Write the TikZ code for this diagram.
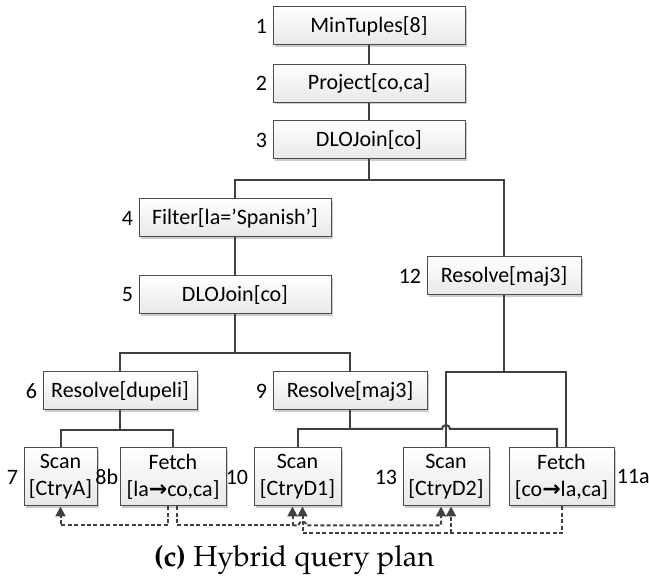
\documentclass[tikz,border=0pt]{standalone}
\usepackage[T1]{fontenc}
\usepackage{fontspec}
\usepackage{tikz}
\usetikzlibrary{arrows.meta, calc, shadows}

\newfontfamily\calibri{Carlito}
\newfontfamily\arrowfont{DejaVu Sans}
\newcommand{\fldarrow}{{\arrowfont\bfseries →}}
\newcommand{\capfont}{\fontencoding{T1}\fontfamily{ppl}\fontsize{14.5}{17}\selectfont}

\begin{document}
\begin{tikzpicture}[x=0.5pt, y=-0.5pt,
    op/.style={draw=gray!60!black, line width=0.5pt, top color=white, bottom color=gray!18,
        minimum height=19pt, inner sep=0pt, align=center,
        font=\calibri\fontsize{11}{13.5}\selectfont,
        drop shadow={shadow xshift=1pt, shadow yshift=-1pt, opacity=0.2, fill=black}},
    leaf/.style={minimum height=29pt},
    num/.style={font=\calibri\fontsize{11}{13.5}\selectfont, inner sep=0pt},
    tree/.style={draw=black!75, line width=1pt},
    flow/.style={draw=black!75, line width=1pt, dash pattern=on 2pt off 1.2pt,
        -{Triangle[length=5pt, width=5pt]}},
    label distance=2.5pt]
    \useasboundingbox (0,0) rectangle (649,587);

    % 上半部分的算子
    \node[op, minimum width=96pt, label={[num]left:1}] (mintup) at (369,26) {MinTuples[8]};
    \node[op, minimum width=96pt, label={[num]left:2}] (proj) at (369,83.5) {Project[co,ca]};
    \node[op, minimum width=96pt, label={[num]left:3}] (join1) at (369,140) {DLOJoin[co]};
    \node[op, minimum width=96pt, label={[num]left:4}] (filt) at (235,218) {Filter[la=’Spanish’]};
    \node[op, minimum width=96pt, label={[num]left:5}] (join2) at (235,295) {DLOJoin[co]};
    \node[op, minimum width=77pt, label={[num]left:12}] (res12) at (504,276) {Resolve[maj3]};
    \node[op, minimum width=77pt, label={[num]left:6}] (res6) at (120,391) {Resolve[dupeli]};
    \node[op, minimum width=77pt, label={[num]left:9}] (res9) at (350,391) {Resolve[maj3]};

    % 最底层的 Scan / Fetch
    \node[op, leaf, minimum width=36.5pt, label={[num]left:7}] (scan7) at (60.5,477) {Scan\\{[CtryA]}};
    \node[op, leaf, minimum width=53pt, label={[num, label distance=0.5pt]left:8b}] (fetch8) at (173,477) {Fetch\\{[la\fldarrow co,ca]}};
    \node[op, leaf, minimum width=43.5pt, label={[num]left:10}] (scan10) at (297.5,477) {Scan\\{[CtryD1]}};
    \node[op, leaf, minimum width=43pt, label={[num]left:13}] (scan13) at (446,477) {Scan\\{[CtryD2]}};
    \node[op, leaf, minimum width=52.5pt, label={[num, label distance=1pt]right:11a}] (fetch11) at (561.5,477) {Fetch\\{[co\fldarrow la,ca]}};

    % 竖直连线
    \foreach \a/\b in {mintup/proj, proj/join1, filt/join2}
        \draw[tree] (\a) -- (\b);

    % 树的分支
    \coordinate (b3) at (369,180);
    \draw[tree] (join1) -- (b3) -| (filt);
    \draw[tree] (b3) -| (res12);
    \coordinate (b5) at (235,353);
    \draw[tree] (join2) -- (b5);
    \draw[tree] (res6) |- (b5) -| (res9);
    \coordinate (b6) at (120,430);
    \draw[tree] (res6) -- (b6);
    \draw[tree] (scan7) |- (b6) -| (fetch8);
    \coordinate (b12) at (504,372);
    \draw[tree] (res12) -- (b12);
    \draw[tree] (scan13) |- (b12) -| ($(fetch11.north)+(4.5,0)$);
    % 跨线处画一个小弧
    \coordinate (b9) at (350,429);
    \draw[tree] (res9) -- (b9) -| (scan10);
    \draw[tree] (b9) -- (442,429) arc[start angle=180, end angle=360, radius=4]
        -| ($(fetch11.north)+(-4.5,0)$);

    % 虚线箭头
    \draw[flow] ($(fetch8.south)+(-5,0)$) |- ($(scan7.south)+(0,19)$) -- (scan7.south);
    \draw[flow] ($(fetch8.south)+(4,0)$) |- ($(scan10.south)+(-5,19)$) -- ($(scan10.south)+(-5,0)$);
    \draw[flow] ($(scan10.south)+(-5,19)$) -- ($(scan10.south)+(1,19)$)
        arc[start angle=180, end angle=360, radius=4]
        -- ($(scan13.south)+(-5,19)$) -- ($(scan13.south)+(-5,0)$);
    \draw[flow] (fetch11.south) |- ($(scan10.south)+(5,27)$) -- ($(scan10.south)+(5,0)$);
    \draw[flow] ($(scan13.south)+(5,27)$) -- ($(scan13.south)+(5,0)$);

    % 图题
    \node[font=\capfont] (cap) at (294,560) {\textbf{(c)} Hybrid query plan};
\end{tikzpicture}
\end{document}
